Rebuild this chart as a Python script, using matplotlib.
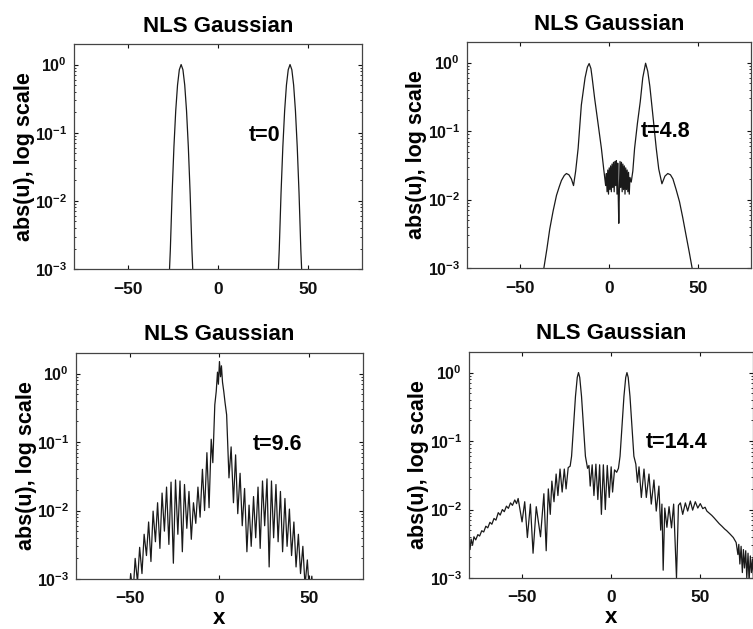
import matplotlib.pyplot as plt

plt.rcParams['font.family'] = ['Liberation Sans', 'DejaVu Sans']
plt.rcParams['font.weight'] = 'bold'
plt.rcParams['axes.unicode_minus'] = True

title = 'NLS Gaussian'
ylabel = 'abs(u), log scale'
xticks = [-50, 0, 50]

# t = 0 : two gaussian pulses
t0_x = [-27.1, -26.5, -25.5, -24.5, -23.5, -22.5, -21.5, -20.5, -19.5, -18.5, -17.5, -16.5, -15.5, -14.5, -13.9,
        33.4, 34.0, 35.0, 36.0, 37.0, 38.0, 39.0, 40.0, 41.0, 42.0, 43.0, 44.0, 45.0, 46.0, 46.6]
t0_y = [8e-4, 1.9e-3, 1.3e-2, 6.2e-2, 2.1e-1, 5.0e-1, 8.4e-1, 1.0, 8.4e-1, 5.0e-1, 2.1e-1, 6.2e-2, 1.3e-2, 1.9e-3, 8e-4,
        8e-4, 1.9e-3, 1.3e-2, 6.2e-2, 2.1e-1, 5.0e-1, 8.4e-1, 1.0, 8.4e-1, 5.0e-1, 2.1e-1, 6.2e-2, 1.3e-2, 1.9e-3, 8e-4]

# t = 4.8
t48_x = [-37.2, -36.7, -35.0, -33.4, -31.5, -29.6, -28.0, -26.8, -25.2, -24.0, -22.6, -21.2, -20.0, -18.8,
         -17.4, -15.6, -13.5, -12.2, -11.2, -10.2, -9.5, -8.1, -6.2, -4.3, -3.0, -1.9,
         -1.5, -1.1, -0.7, -0.3, 0.1, 0.5, 0.9, 1.3, 1.7, 2.1, 2.5, 2.9, 3.3, 3.7, 4.1, 4.5, 4.9,
         5.2, 5.5, 5.8, 6.2, 6.6, 7.0, 7.4, 7.8, 8.2, 8.6, 9.0, 9.4, 9.8, 10.2, 10.6, 11.0, 11.4, 11.8,
         12.5, 13.4, 14.4, 16.0, 17.6, 19.0, 20.6, 21.8, 23.0, 24.6, 26.6, 28.0, 29.8, 31.5, 33.1,
         34.6, 36.0, 37.8, 39.7, 41.5, 43.4, 45.2, 46.8, 47.3]
t48_y = [8e-4, 1e-3, 1.9e-3, 3.7e-3, 6.8e-3, 1.15e-2, 1.55e-2, 1.9e-2, 2.25e-2, 2.4e-2, 2.3e-2, 2.0e-2, 1.6e-2, 2.6e-2,
         5.6e-2, 2.4e-1, 6.0e-1, 8.6e-1, 9.7e-1, 8.2e-1, 6.0e-1, 3.0e-1, 1.3e-1, 5.6e-2, 2.8e-2, 1.6e-2,
         0.024, 0.013, 0.027, 0.012, 0.029, 0.014, 0.031, 0.013, 0.033, 0.015, 0.035, 0.013, 0.036, 0.016, 0.037, 0.012, 0.034,
         0.011, 0.0045, 0.012, 0.036, 0.015, 0.035, 0.013, 0.033, 0.014, 0.031, 0.012, 0.029, 0.014, 0.027, 0.013, 0.025, 0.012, 0.021,
         0.018, 0.026, 0.056, 0.13, 0.27, 0.6, 0.98, 0.75, 0.45, 0.18, 0.056, 0.028, 0.017, 0.022, 0.024,
         0.023, 0.02, 0.014, 0.0093, 0.0055, 0.003, 0.0017, 0.001, 8e-4]

# t = 9.6
t96_x = [-50.5, -49.5, -48.2, -47.0, -45.7, -44.5, -43.2, -42.0, -40.7, -39.5, -38.2, -37.0, -35.7, -34.5,
         -33.2, -32.0, -30.7, -29.5, -28.2, -27.0, -25.7, -24.5, -23.2, -22.0, -20.7, -19.5, -18.2, -17.0,
         -15.7, -14.5, -13.2, -12.0, -10.8, -9.5, -8.3, -7.0, -5.8, -4.6, -3.7, -2.6, -1.8, -1.1, -0.6,
         0.0, 0.6, 1.1, 1.7, 2.4, 3.1, 4.0, 5.3, 6.5, 7.8, 9.0, 10.2, 11.5, 12.7, 14.0, 15.3, 16.5, 17.7,
         19.0, 20.2, 21.5, 22.7, 24.0, 25.2, 26.5, 27.7, 29.0, 30.2, 31.5, 32.7, 34.0, 35.2, 36.5, 37.7,
         39.0, 40.2, 41.5, 42.7, 44.0, 45.2, 46.5, 47.7, 49.0, 50.2, 51.5, 52.5]
t96_y = [0.0005, 0.0012, 0.0006, 0.0020, 0.0009, 0.0029, 0.0012, 0.0045, 0.0022, 0.0068, 0.0018, 0.0098, 0.0035, 0.013,
         0.0028, 0.018, 0.0050, 0.022, 0.0032, 0.026, 0.0017, 0.028, 0.0045, 0.027, 0.0025, 0.024, 0.0055, 0.019,
         0.0038, 0.013, 0.0065, 0.022, 0.0080, 0.040, 0.010, 0.070, 0.011, 0.11, 0.05, 0.35, 0.55, 1.05, 0.7,
         1.5, 0.9, 1.3, 0.75, 0.55, 0.38, 0.25, 0.03, 0.085, 0.013, 0.065, 0.009, 0.035, 0.006, 0.021, 0.0025, 0.012, 0.003,
         0.016, 0.004, 0.022, 0.0028, 0.027, 0.006, 0.029, 0.0015, 0.027, 0.004, 0.024, 0.0035, 0.019, 0.0025, 0.015, 0.003,
         0.0105, 0.0022, 0.0068, 0.0015, 0.0045, 0.0012, 0.0030, 0.0008, 0.0019, 0.0006, 0.0011, 0.0005]

# t = 14.4
t144_x = [-80.5, -80.0, -79.4, -78.8, -78.0, -77.2, -76.2, -75.0, -74.0, -72.8, -71.7, -70.5, -69.4, -68.2,
          -67.1, -65.9, -64.8, -63.5, -62.4, -61.2, -60.1, -58.9, -57.8, -56.6, -55.5, -54.2, -53.2, -52.3,
          -50.1, -48.6, -47.1, -45.4, -43.9, -42.1, -39.7, -37.8, -36.5, -35.3, -34.2, -33.3, -32.1, -30.9,
          -29.9, -28.7, -27.5, -26.3, -25.3, -24.1, -23.0, -22.2, -21.2, -20.0, -19.0, -18.3, -17.6, -16.6,
          -15.4, -14.4, -13.2, -12.4, -11.7, -10.6, -9.6, -8.5, -7.4, -6.4, -5.4, -4.3, -3.2, -2.1, -1.0,
          0.1, 0.9, 2.0, 3.2, 4.2, 5.1, 6.1, 7.3, 8.3, 9.0, 9.7, 10.7, 11.9, 12.9, 14.0, 14.9, 15.8, 17.1,
          18.6, 19.9, 21.4, 22.7, 24.2, 25.5, 27.0, 28.0, 28.7, 29.4, 30.3, 31.5, 32.7, 34.1, 35.3, 36.9,
          38.0, 39.1, 40.4, 41.9, 43.2, 44.7, 46.0, 47.5, 48.9, 50.3, 51.7, 53.0, 54.0, 55.5, 56.8, 58.0,
          59.6, 61.0, 62.5, 64.0, 65.2, 67.0, 68.9, 70.5, 71.5, 72.0, 72.6, 73.3, 74.0, 74.6, 75.2, 75.9,
          76.5, 77.2, 77.8, 78.5, 79.1, 79.7, 80.3]
t144_y = [0.0020, 0.0035, 0.0026, 0.0037, 0.0030, 0.0040, 0.0036, 0.0043, 0.0041, 0.0049, 0.0047, 0.0057, 0.0054, 0.0065,
          0.0061, 0.0074, 0.0070, 0.0090, 0.0083, 0.0100, 0.0093, 0.0112, 0.0104, 0.0125, 0.0115, 0.0138, 0.0122, 0.0145,
          0.0066, 0.0130, 0.0039, 0.0120, 0.0023, 0.0110, 0.0040, 0.0170, 0.0025, 0.0200, 0.0085, 0.0260, 0.0130, 0.0330,
          0.0160, 0.0390, 0.0180, 0.0390, 0.0200, 0.0410, 0.0430, 0.0600, 0.1500, 0.4500, 0.8500, 1.0000, 0.8500, 0.4500,
          0.1500, 0.0600, 0.0400, 0.0440, 0.0220, 0.0450, 0.0160, 0.0460, 0.0140, 0.0450, 0.0085, 0.0450, 0.0100, 0.0440, 0.0150,
          0.0420, 0.0180, 0.0380, 0.0350, 0.0400, 0.0600, 0.1500, 0.4500, 0.8500, 1.0000, 0.8500, 0.4500, 0.1500, 0.0600, 0.0460, 0.0250, 0.0420, 0.0150,
          0.0390, 0.0150, 0.0330, 0.0120, 0.0270, 0.0095, 0.0220, 0.0050, 0.0120, 0.0013, 0.0105, 0.0055, 0.0110, 0.0054, 0.0120, 0.0010,
          0.0115, 0.0125, 0.0085, 0.0125, 0.0095, 0.0133, 0.0098, 0.0130, 0.0105, 0.0122, 0.0103, 0.0108, 0.0095, 0.0088, 0.0082, 0.0076,
          0.0068, 0.0062, 0.0057, 0.0052, 0.0049, 0.0044, 0.0039, 0.0033, 0.0022, 0.0031, 0.0016, 0.0029, 0.0012, 0.0026, 0.0014, 0.0025,
          0.0010, 0.0023, 0.0009, 0.0021, 0.0012, 0.0019, 0.0009]

labels = ['t=0', 't=4.8', 't=9.6', 't=14.4']
label_x = [17.3, 18.0, 18.3, 19.7]
label_y = [0.091, 0.1, 0.091, 0.095]

fig = plt.figure(figsize=(7.53, 6.29), dpi=100)
boxes = [[0.0983, 0.5723, 0.3825, 0.3577],
         [0.6202, 0.5739, 0.3772, 0.3593],
         [0.1009, 0.0795, 0.3811, 0.3593],
         [0.6228, 0.0811, 0.3772, 0.3593]]
series = [(t0_x, t0_y), (t48_x, t48_y), (t96_x, t96_y), (t144_x, t144_y)]

for i, (xs, ys) in enumerate(series):
    ax = fig.add_axes(boxes[i])
    ax.plot(xs, ys, color='#1a1a1a', lw=0.9)
    ax.set_yscale('log')
    ax.set_xlim(-80, 80)
    ax.set_ylim(1e-3, 2)
    ax.set_xticks(xticks)
    ax.tick_params(which='both', direction='in', top=True, right=True, colors='#111111')
    ax.tick_params(axis='x', pad=9, length=3, labelsize=12.5)
    ax.tick_params(axis='y', which='major', pad=5, length=3, labelsize=11.5)
    ax.tick_params(axis='y', which='minor', length=1.5)
    for s in ax.spines.values():
        s.set_color('#444444')
        s.set_linewidth(0.9)
    ax.set_title(title, fontsize=16, fontweight='bold', pad=9)
    ax.set_ylabel(ylabel, fontsize=15.5, fontweight='bold')
    ax.yaxis.set_label_coords(-0.137 if i in (0, 2) else -0.14, 0.5)
    ax.text(label_x[i], label_y[i], labels[i], fontsize=15.5, fontweight='bold', ha='left', va='center')
    if i >= 2:
        ax.set_xlabel('x', fontsize=16, fontweight='bold', labelpad=1)

fig.savefig('out.png', dpi=100)
